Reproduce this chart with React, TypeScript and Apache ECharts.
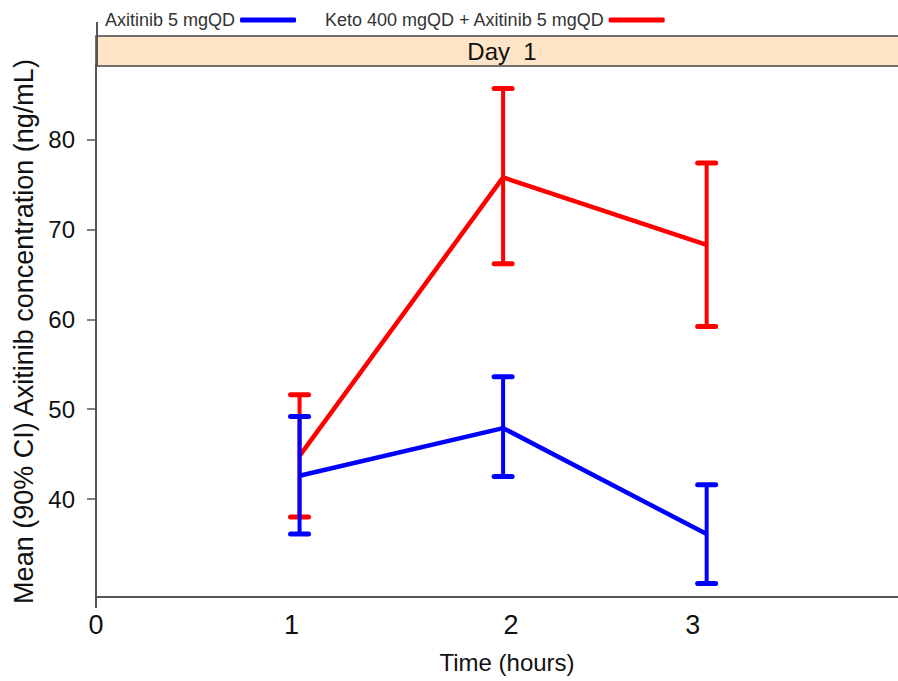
import React, { useEffect, useRef } from "react";
import * as echarts from "echarts";

const times = [1, 2, 3];
const axitinibMean = [42.6, 47.9, 36.1];
const axitinibLow = [36.1, 42.5, 30.6];
const axitinibHigh = [49.2, 53.6, 41.6];
const ketoMean = [44.8, 75.8, 68.3];
const ketoLow = [38.0, 66.2, 59.2];
const ketoHigh = [51.6, 85.7, 77.4];
const yTicks = [40, 50, 60, 70, 80];
const xTicks = [0, 1, 2, 3];
const seriesNames = ["Axitinib 5 mgQD", "Keto 400 mgQD + Axitinib 5 mgQD"];
const stripLabel = "Day  1";

const BLUE = "#0000FF";
const RED = "#FF0000";
const FONT = "'Liberation Sans', Arial, sans-serif";

function errorRender(color: string) {
  return (params: any, api: any) => {
    const x = api.value(0);
    const lo = api.value(1);
    const hi = api.value(2);
    const pLo = api.coord([x, lo]);
    const pHi = api.coord([x, hi]);
    const hw = 9;
    return {
      type: "group",
      children: [
        { type: "line", shape: { x1: pLo[0], y1: pLo[1], x2: pHi[0], y2: pHi[1] }, style: { stroke: color, lineWidth: 4 } },
        { type: "line", shape: { x1: pHi[0] - hw, y1: pHi[1], x2: pHi[0] + hw, y2: pHi[1] }, style: { stroke: color, lineWidth: 5, lineCap: "round" } },
        { type: "line", shape: { x1: pLo[0] - hw, y1: pLo[1], x2: pLo[0] + hw, y2: pLo[1] }, style: { stroke: color, lineWidth: 5, lineCap: "round" } },
      ],
    };
  };
}

export default function App() {
  const ref = useRef<HTMLDivElement>(null);
  useEffect(() => {
    if (!ref.current) return;
    const chart = echarts.init(ref.current, undefined, { renderer: "svg" });
    const axLine = times.map((t, i) => [t, axitinibMean[i]]);
    const ketoLine = times.map((t, i) => [t, ketoMean[i]]);
    const axErr = times.map((t, i) => [t, axitinibLow[i], axitinibHigh[i]]);
    const ketoErr = times.map((t, i) => [t, ketoLow[i], ketoHigh[i]]);
    const pad: Record<string, number[]> = { "0": [0, 0, 0, 0], "1": [0, 16, 0, 0], "2": [0, 0, 0, 16], "3": [0, 28, 0, 0] };
    const rich: any = {};
    xTicks.forEach((t) => {
      rich["s" + t] = { fontSize: 27, color: "#111", fontFamily: FONT, padding: pad[String(t)] };
    });
    chart.setOption({
      animation: false,
      backgroundColor: "#fff",
      textStyle: { fontFamily: FONT },
      grid: { left: 96, right: 0, top: 66, bottom: 84, containLabel: false },
      legend: {
        data: seriesNames,
        left: 100,
        top: 6,
        align: "right",
        icon: "roundRect",
        itemWidth: 56,
        itemHeight: 5,
        itemGap: 28,
        textStyle: { fontSize: 18, color: "#333", fontFamily: FONT },
        selectedMode: false,
      },
      xAxis: {
        type: "value",
        min: 0,
        max: 3.94,
        name: "Time (hours)",
        nameLocation: "middle",
        nameGap: 53,
        nameTextStyle: { fontSize: 24, color: "#111", fontFamily: FONT, padding: [0, 0, 0, 20] },
        axisLine: { show: true, lineStyle: { color: "#555", width: 2 } },
        axisTick: { show: true, customValues: [0], length: 11, lineStyle: { color: "#555", width: 2 } },
        axisLabel: {
          customValues: xTicks,
          margin: 14,
          formatter: (v: number) => `{s${v}|${v}}`,
          rich,
        },
        splitLine: { show: false },
      },
      yAxis: {
        type: "value",
        min: 29.1,
        max: 88.2,
        name: "Mean (90% CI) Axitinib concentration (ng/mL)",
        nameLocation: "middle",
        nameGap: 58,
        nameTextStyle: { fontSize: 27, color: "#111", fontFamily: FONT },
        axisLine: { show: true, lineStyle: { color: "#555", width: 2 } },
        axisTick: { show: true, customValues: yTicks, length: 9, lineStyle: { color: "#555", width: 1.5 } },
        axisLabel: { customValues: yTicks, fontSize: 24, color: "#111", margin: 21, fontFamily: FONT },
        splitLine: { show: false },
      },
      graphic: [
        {
          type: "rect",
          shape: { x: 96, y: 36, width: 820, height: 30 },
          style: { fill: "#FFE4C8", stroke: "#444", lineWidth: 1.5 },
          z: 10,
        },
        {
          type: "text",
          x: 502,
          y: 51,
          style: { text: stripLabel, fontSize: 24, fill: "#111", fontFamily: FONT, align: "center", verticalAlign: "middle" },
          z: 11,
        },
        {
          type: "line",
          shape: { x1: 97, y1: 22, x2: 97, y2: 66 },
          style: { stroke: "#555", lineWidth: 2 },
          z: 12,
        },
      ],
      series: [
        {
          name: seriesNames[1],
          type: "line",
          data: ketoLine,
          symbol: "none",
          lineStyle: { color: RED, width: 4.5 },
          itemStyle: { color: RED },
          z: 2,
        },
        {
          name: seriesNames[1],
          type: "custom",
          data: ketoErr,
          encode: { x: 0, y: [1, 2] },
          renderItem: errorRender(RED),
          itemStyle: { color: RED },
          z: 2,
        },
        {
          name: seriesNames[0],
          type: "line",
          data: axLine,
          symbol: "none",
          lineStyle: { color: BLUE, width: 4.5 },
          itemStyle: { color: BLUE },
          z: 3,
        },
        {
          name: seriesNames[0],
          type: "custom",
          data: axErr,
          encode: { x: 0, y: [1, 2] },
          renderItem: errorRender(BLUE),
          itemStyle: { color: BLUE },
          z: 3,
        },
      ],
    });
    return () => chart.dispose();
  }, []);
  return (
    <div
      ref={ref}
      style={{ position: "absolute", left: 0, top: 0, width: 898, height: 681 }}
    />
  );
}
